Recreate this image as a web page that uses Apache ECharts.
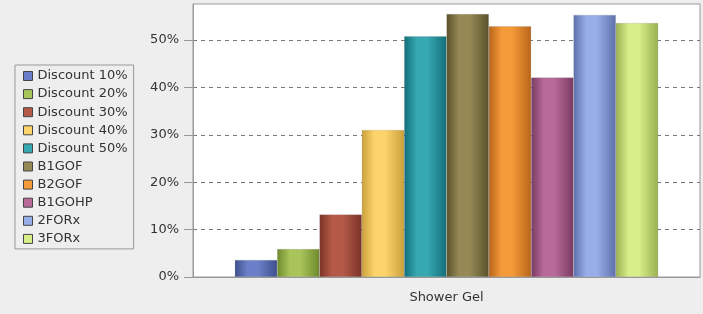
<!DOCTYPE html>
<html>
<head>
<meta charset="utf-8">
<script src="https://cdn.jsdelivr.net/npm/echarts@6/dist/echarts.min.js"></script>
<style>
  html, body { margin: 0; padding: 0; background: #eeeeee; }
  #chart { width: 703px; height: 314px; }
</style>
</head>
<body>
<div id="chart"></div>
<script>
  let categories = ['Shower Gel'];
  let seriesNames = ['Discount 10%', 'Discount 20%', 'Discount 30%', 'Discount 40%', 'Discount 50%',
    'B1GOF', 'B2GOF', 'B1GOHP', '2FORx', '3FORx'];
  let seriesValues = [3.6, 5.9, 13.2, 31.0, 50.8, 55.5, 52.9, 42.1, 55.3, 53.6];
  let seriesColors = ['#6b80c8', '#a8c45a', '#b55a48', '#fdd46c', '#36a8b2',
    '#958a55', '#f59a38', '#b86b9a', '#98aee8', '#d8ee88'];
  let darkColors = ['#3d4f8c', '#6f8a2c', '#7a3326', '#c9a03a', '#146e78',
    '#5a522b', '#b8651a', '#7a3a60', '#5e70aa', '#98b050'];

  // cylinder-like horizontal shading
  function shade(i) {
    return new echarts.graphic.LinearGradient(0, 0, 1, 0, [
      { offset: 0, color: darkColors[i] },
      { offset: 0.3, color: seriesColors[i] },
      { offset: 0.55, color: seriesColors[i] },
      { offset: 1, color: darkColors[i] }
    ]);
  }

  let series = seriesNames.map(function (name, i) {
    return {
      name: name,
      type: 'bar',
      barGap: '0%',
      barCategoryGap: '16.5%',
      data: [seriesValues[i]],
      itemStyle: {
        color: shade(i),
        borderColor: 'rgba(120,120,120,0.35)',
        borderWidth: 0.5
      },
      emphasis: { disabled: true }
    };
  });

  let option = {
    backgroundColor: '#eeeeee',
    animation: false,
    textStyle: { fontFamily: 'DejaVu Sans' },
    legend: {
      orient: 'vertical',
      left: 15,
      top: 65,
      padding: [4, 6, 3, 8],
      itemWidth: 9,
      itemHeight: 9,
      itemGap: 4.1,
      icon: 'rect',
      borderColor: '#999999',
      borderWidth: 1,
      data: seriesNames.map(function (n, i) {
        return { name: n, itemStyle: { color: seriesColors[i], borderColor: '#444', borderWidth: 1 } };
      }),
      textStyle: { fontSize: 13, lineHeight: 14, color: '#333333' },
      selectedMode: false
    },
    grid: {
      left: 193,
      right: 3,
      top: 4,
      bottom: 37,
      show: true,
      backgroundColor: '#ffffff',
      borderColor: '#999999',
      borderWidth: 1
    },
    xAxis: {
      type: 'category',
      data: categories,
      axisLine: { lineStyle: { color: '#999999' } },
      axisTick: { alignWithLabel: true, length: 7, lineStyle: { color: '#999999' } },
      axisLabel: { color: '#333333', fontSize: 13, margin: 14 }
    },
    yAxis: {
      type: 'value',
      min: 0,
      max: 57.6,
      interval: 10,
      axisLine: { show: true, lineStyle: { color: '#999999' } },
      axisTick: { show: true, length: 9, lineStyle: { color: '#999999' } },
      axisLabel: {
        color: '#333333',
        fontSize: 13,
        margin: 14,
        showMaxLabel: false,
        formatter: function (v) { return v % 10 === 0 ? v + '%' : ''; }
      },
      splitLine: { showMaxLine: false, lineStyle: { color: '#777777', type: [4, 4] } }
    },
    series: series
  };

  var myChart = echarts.init(document.getElementById('chart'));
  myChart.setOption(option);
</script>
</body>
</html>
